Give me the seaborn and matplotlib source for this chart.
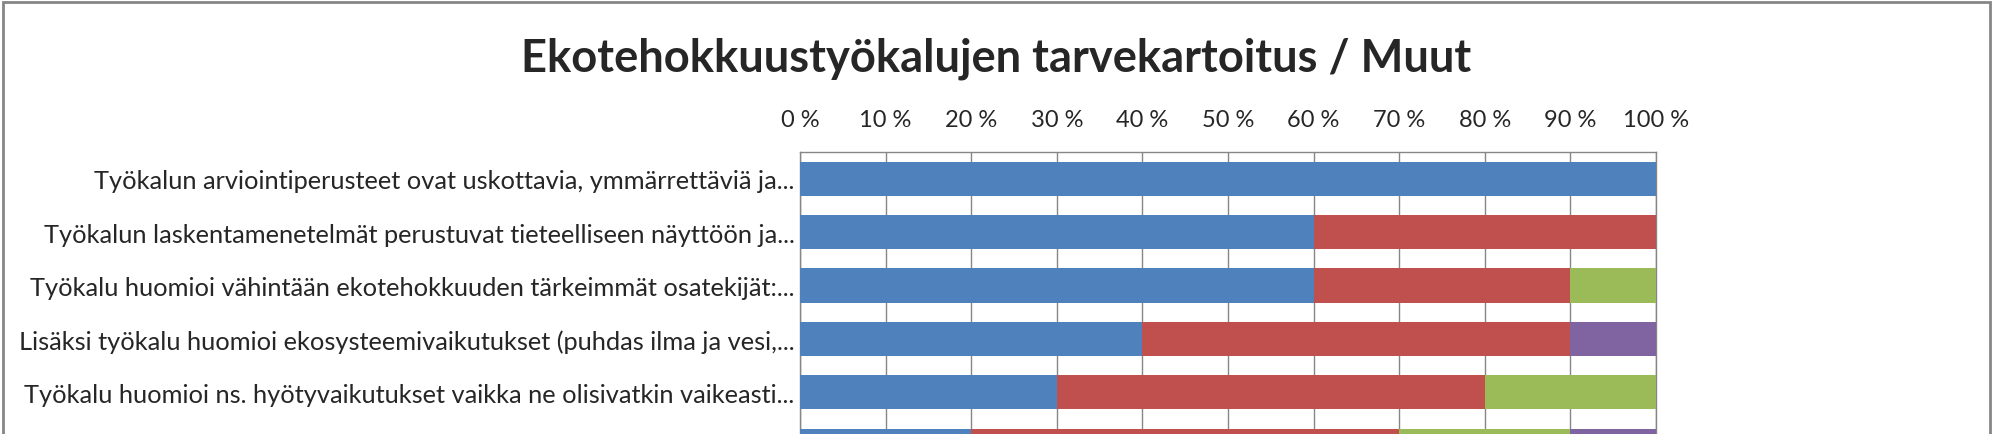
import numpy as np
import pandas as pd
import matplotlib
matplotlib.use("Agg")
import matplotlib.pyplot as plt
from matplotlib.patches import Rectangle
import seaborn as sns

# Kysymykset (viimeisen rivin teksti jää kuvan ulkopuolelle)
kysymykset = [
    "Työkalun arviointiperusteet ovat uskottavia, ymmärrettäviä ja...",
    "Työkalun laskentamenetelmät perustuvat tieteelliseen näyttöön ja...",
    "Työkalu huomioi vähintään ekotehokkuuden tärkeimmät osatekijät:...",
    "Lisäksi työkalu huomioi ekosysteemivaikutukset (puhdas ilma ja vesi,...",
    "Työkalu huomioi ns. hyötyvaikutukset vaikka ne olisivatkin vaikeasti...",
    "",
]

# Vastausosuudet (%)
sarja1 = [100, 60, 60, 40, 30, 20]
sarja2 = [0, 40, 30, 50, 50, 50]
sarja3 = [0, 0, 10, 0, 20, 20]
sarja4 = [0, 0, 0, 10, 0, 10]

sarjat = ["Sarja 1", "Sarja 2", "Sarja 3", "Sarja 4"]
varit = ["#4F81BD", "#C0504D", "#9BBB59", "#8064A2"]
x_ticks = list(range(0, 101, 10))
x_labels = [f"{v} %" for v in x_ticks]

df = pd.DataFrame({"kysymys": kysymykset, "Sarja 1": sarja1, "Sarja 2": sarja2,
                   "Sarja 3": sarja3, "Sarja 4": sarja4})
kum = df[sarjat].cumsum(axis=1)

sns.set_style("white")
plt.rcParams["font.family"] = ["Lato", "DejaVu Sans"]

W, H = 1993, 435
fig = plt.figure(figsize=(W / 100, H / 100), dpi=100)
ax_left, ax_right, ax_top = 800, 1656, 153
slot = 53.4
ax_h = slot * len(kysymykset)
ax = fig.add_axes([ax_left / W, 1 - (ax_top + ax_h) / H,
                   (ax_right - ax_left) / W, ax_h / H])

# pinotut palkit: piirretään kumulatiiviset summat takaperin
for s, c in reversed(list(zip(sarjat, varit))):
    sns.barplot(x=kum[s], y=df["kysymys"], color=c, orient="h", width=0.64,
                linewidth=0, saturation=1, ax=ax, zorder=3)

ax.set_xlim(0, 100)
ax.set_ylim(len(kysymykset) - 0.5, -0.5)
ax.xaxis.tick_top()
ax.set_xticks(x_ticks)
ax.set_xticklabels(x_labels, fontsize=17)
ax.tick_params(axis="x", length=0, pad=16)
ax.tick_params(axis="y", length=0, pad=4, labelsize=18.3)
ax.grid(axis="x", color="#868686", linewidth=1, zorder=0)
ax.set_axisbelow(True)
for sp in ax.spines.values():
    sp.set_color("#868686")
    sp.set_linewidth(1)
ax.set_xlabel("")
ax.set_ylabel("")

fig.text(0.5, 1 - 72 / H, "Ekotehokkuustyökalujen tarvekartoitus / Muut",
         ha="center", va="baseline", fontsize=32.6, fontweight="bold")

fig.patches.append(Rectangle((3 / W, -0.2), (1990 - 3) / W, 1.2 - 3 / H,
                             transform=fig.transFigure, fill=False,
                             edgecolor="#868686", linewidth=2))

fig.savefig("out.png", dpi=100)
